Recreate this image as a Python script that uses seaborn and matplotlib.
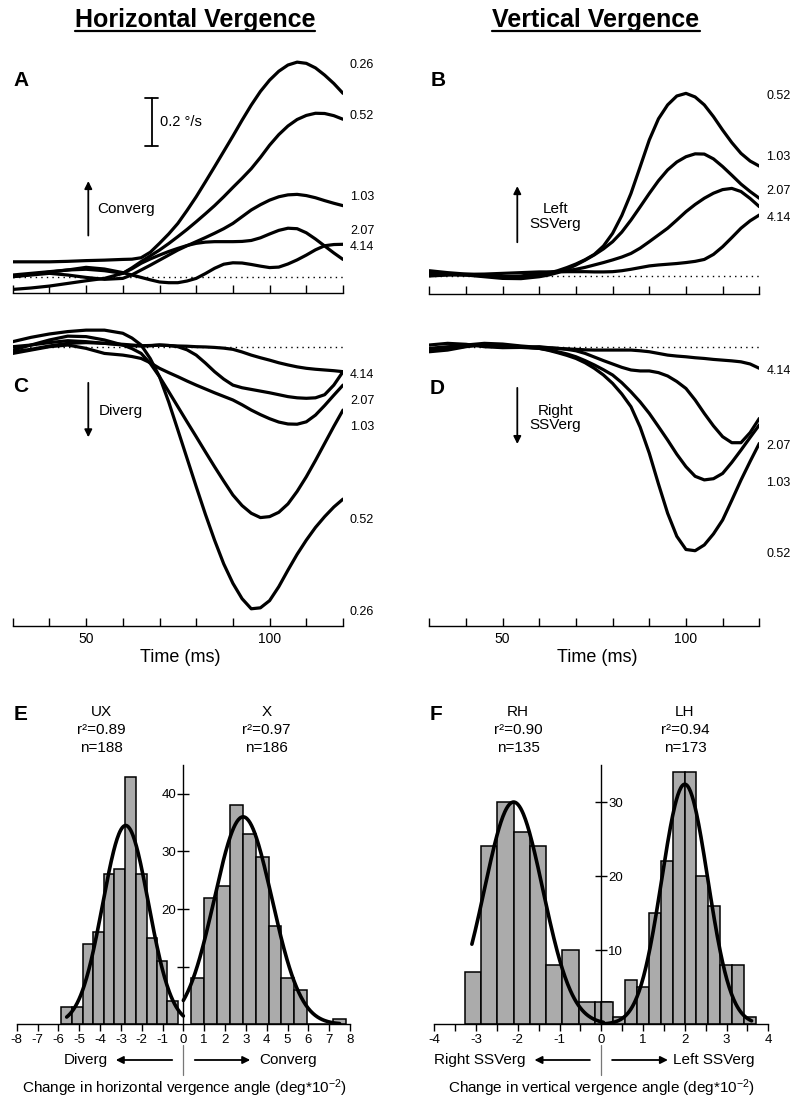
import numpy as np
import pandas as pd
import seaborn as sns
import matplotlib
matplotlib.use('Agg')  # no display
import matplotlib.pyplot as plt
from matplotlib.lines import Line2D

# Figure size in pixels
W, H = 800, 1104

# ---- Velocity traces (deg/s) ----
TIME_MS = [30, 35, 40, 45, 50, 55, 60, 62.5, 65, 67.5, 70, 72.5, 75, 77.5, 80, 82.5, 85, 87.5,
           90, 92.5, 95, 97.5, 100, 102.5, 105, 107.5, 110, 112.5, 115, 117.5, 120]
TF_LABELS = ['0.26', '0.52', '1.03', '2.07', '4.14']

# A: horizontal, convergence
A_026 = [0.062, 0.062, 0.062, 0.064, 0.067, 0.069, 0.072, 0.073, 0.079, 0.102, 0.139, 0.178, 0.222, 0.276, 0.333, 0.395,
         0.458, 0.522, 0.586, 0.652, 0.715, 0.772, 0.819, 0.856, 0.882, 0.894, 0.889, 0.870, 0.840, 0.805, 0.764]
A_052 = [-0.053, -0.047, -0.039, -0.028, -0.017, -0.007, 0.014, 0.037, 0.063, 0.087, 0.111, 0.138, 0.167, 0.197, 0.229, 0.262,
         0.296, 0.333, 0.372, 0.410, 0.450, 0.497, 0.548, 0.592, 0.628, 0.655, 0.672, 0.681, 0.680, 0.671, 0.656]
A_103 = [0.000, 0.007, 0.014, 0.007, -0.003, -0.011, -0.007, 0.008, 0.028, 0.048, 0.069, 0.090, 0.111, 0.129, 0.146, 0.163,
         0.181, 0.200, 0.222, 0.250, 0.278, 0.300, 0.319, 0.333, 0.341, 0.343, 0.338, 0.329, 0.317, 0.306, 0.296]
A_207 = [0.007, 0.014, 0.021, 0.028, 0.031, 0.025, 0.014, 0.033, 0.056, 0.074, 0.090, 0.105, 0.118, 0.130, 0.139, 0.144,
         0.146, 0.146, 0.146, 0.147, 0.151, 0.162, 0.178, 0.193, 0.202, 0.200, 0.183, 0.157, 0.128, 0.099, 0.072]
A_414 = [0.000, 0.010, 0.019, 0.028, 0.039, 0.032, 0.017, 0.007, -0.003, -0.013, -0.022, -0.025, -0.025, -0.018, -0.007, 0.013,
         0.035, 0.052, 0.058, 0.057, 0.051, 0.044, 0.038, 0.040, 0.053, 0.070, 0.090, 0.112, 0.129, 0.134, 0.135]

# B: vertical, left SSVerg
B_052 = [0.022, 0.014, 0.008, 0.003, -0.003, -0.003, 0.004, 0.012, 0.022, 0.035, 0.050, 0.068, 0.090, 0.125, 0.178, 0.252,
         0.344, 0.455, 0.567, 0.655, 0.713, 0.750, 0.761, 0.746, 0.713, 0.664, 0.608, 0.556, 0.511, 0.479, 0.458]
B_103 = [0.011, 0.008, 0.004, -0.003, -0.010, -0.011, -0.003, 0.004, 0.014, 0.028, 0.046, 0.066, 0.088, 0.113, 0.143, 0.183,
         0.233, 0.288, 0.344, 0.397, 0.442, 0.475, 0.497, 0.509, 0.508, 0.488, 0.456, 0.420, 0.383, 0.352, 0.324]
B_207 = [0.004, 0.006, 0.004, 0.001, -0.003, 0.000, 0.011, 0.015, 0.018, 0.022, 0.028, 0.036, 0.046, 0.056, 0.067, 0.079,
         0.094, 0.116, 0.143, 0.171, 0.199, 0.233, 0.268, 0.298, 0.324, 0.345, 0.360, 0.365, 0.352, 0.323, 0.289]
B_414 = [0.000, 0.004, 0.007, 0.008, 0.011, 0.014, 0.017, 0.017, 0.017, 0.018, 0.018, 0.018, 0.017, 0.017, 0.018, 0.022,
         0.028, 0.035, 0.042, 0.046, 0.049, 0.052, 0.056, 0.061, 0.069, 0.090, 0.122, 0.160, 0.199, 0.230, 0.254]

# C: horizontal, divergence
C_026 = [0.021, 0.039, 0.053, 0.063, 0.069, 0.069, 0.056, 0.036, 0.007, -0.050, -0.125, -0.230, -0.347, -0.465, -0.583, -0.698,
         -0.806, -0.905, -0.986, -1.050, -1.092, -1.088, -1.058, -1.000, -0.931, -0.865, -0.806, -0.753, -0.708, -0.668, -0.635]
C_052 = [-0.014, 0.007, 0.028, 0.044, 0.042, 0.028, 0.007, -0.008, -0.028, -0.070, -0.125, -0.187, -0.250, -0.313, -0.375, -0.438,
         -0.500, -0.560, -0.618, -0.662, -0.694, -0.712, -0.708, -0.690, -0.655, -0.603, -0.542, -0.474, -0.403, -0.332, -0.264]
C_103 = [-0.028, -0.014, 0.000, 0.007, -0.007, -0.028, -0.035, -0.041, -0.049, -0.067, -0.090, -0.108, -0.125, -0.143, -0.160, -0.176,
         -0.192, -0.207, -0.222, -0.242, -0.264, -0.283, -0.300, -0.314, -0.322, -0.323, -0.313, -0.285, -0.245, -0.202, -0.160]
C_207 = [-0.021, -0.011, 0.003, 0.014, 0.017, 0.014, 0.007, 0.004, 0.003, 0.004, 0.007, 0.005, 0.000, -0.013, -0.035, -0.068,
         -0.104, -0.135, -0.160, -0.171, -0.178, -0.185, -0.192, -0.200, -0.208, -0.213, -0.215, -0.213, -0.200, -0.160, -0.104]
C_414 = [0.000, 0.007, 0.017, 0.025, 0.021, 0.014, 0.010, 0.007, 0.004, 0.005, 0.007, 0.005, 0.003, 0.002, 0.000, -0.001,
         -0.003, -0.006, -0.011, -0.022, -0.035, -0.046, -0.056, -0.067, -0.076, -0.084, -0.090, -0.094, -0.097, -0.100, -0.104]

# D: vertical, right SSVerg
D_052 = [-0.007, 0.000, 0.003, 0.006, 0.003, -0.003, -0.007, -0.015, -0.025, -0.036, -0.049, -0.067, -0.090, -0.118, -0.153, -0.197,
         -0.250, -0.335, -0.444, -0.572, -0.694, -0.790, -0.845, -0.850, -0.826, -0.780, -0.722, -0.640, -0.556, -0.478, -0.403]
D_103 = [-0.021, -0.014, 0.000, 0.010, 0.007, 0.000, -0.007, -0.013, -0.021, -0.030, -0.042, -0.058, -0.076, -0.096, -0.118, -0.150,
         -0.188, -0.230, -0.278, -0.333, -0.389, -0.448, -0.500, -0.540, -0.555, -0.550, -0.528, -0.482, -0.431, -0.378, -0.326]
D_207 = [-0.014, -0.007, 0.007, 0.014, 0.011, 0.003, -0.003, -0.005, -0.007, -0.011, -0.017, -0.028, -0.043, -0.058, -0.072, -0.086,
         -0.097, -0.101, -0.101, -0.108, -0.122, -0.145, -0.174, -0.222, -0.278, -0.330, -0.375, -0.400, -0.400, -0.358, -0.299]
D_414 = [0.007, 0.014, 0.010, 0.000, -0.004, -0.003, 0.000, -0.004, -0.007, -0.009, -0.011, -0.013, -0.014, -0.014, -0.014, -0.014,
         -0.014, -0.017, -0.021, -0.028, -0.035, -0.039, -0.042, -0.046, -0.049, -0.053, -0.056, -0.059, -0.063, -0.072, -0.090]

# ---- Histograms (bin edges in deg*10^-2, counts) ----
UX_EDGES = [-5.87, -5.34, -4.81, -4.33, -3.80, -3.32, -2.79, -2.26, -1.73, -1.25, -0.77, -0.24]
UX_COUNTS = [3, 3, 14, 16, 26, 27, 43, 26, 15, 11, 4]
X_EDGES = [0.37, 0.99, 1.61, 2.23, 2.85, 3.47, 4.09, 4.71, 5.33, 5.95, 6.57, 7.19, 7.81]
X_COUNTS = [8, 22, 24, 38, 33, 29, 17, 8, 6, 0, 0, 1]
RH_EDGES = [-3.27, -2.88, -2.49, -2.10, -1.71, -1.32, -0.93, -0.54, -0.15, 0.24]
RH_COUNTS = [7, 24, 30, 26, 24, 8, 10, 3, 3]
LH_EDGES = [0.0, 0.285, 0.57, 0.855, 1.14, 1.425, 1.71, 1.995, 2.28, 2.565, 2.85, 3.135, 3.42, 3.705]
LH_COUNTS = [3, 1, 6, 5, 15, 22, 34, 34, 20, 16, 8, 8, 1]

# Gaussian fits: amplitude, mean, sd, and the x span drawn
UX_FIT = [34.5, -2.77, 1.10]
UX_SPAN = [-5.6, 0.0]
X_FIT = [36.0, 2.87, 1.38]
X_SPAN = [0.0, 7.5]
RH_FIT = [30.0, -2.10, 0.70]
RH_SPAN = [-3.1, 0.05]
LH_FIT = [32.4, 2.00, 0.55]
LH_SPAN = [0.05, 3.6]

E_STATS = [('UX', 'r²=0.89', 'n=188'), ('X', 'r²=0.97', 'n=186')]
F_STATS = [('RH', 'r²=0.90', 'n=135'), ('LH', 'r²=0.94', 'n=173')]

BAR_GRAY = '#ababab'
PX_PER_UNIT = 240.0  # vertical pixels per deg/s in the trace panels

sns.set_theme(style='white', rc={
    'axes.edgecolor': 'black', 'text.color': 'black', 'axes.labelcolor': 'black',
    'xtick.color': 'black', 'ytick.color': 'black', 'axes.linewidth': 1.0,
    'lines.solid_joinstyle': 'round', 'lines.solid_capstyle': 'round',
})
plt.rcParams['font.family'] = ['Liberation Sans', 'DejaVu Sans']
plt.rcParams['mathtext.fontset'] = 'custom'
plt.rcParams['mathtext.rm'] = 'Liberation Sans'
plt.rcParams['mathtext.it'] = 'Liberation Sans:italic'
plt.rcParams['axes.unicode_minus'] = False

fig = plt.figure(figsize=(W / 100, H / 100), dpi=100)


def px_axes(left, top, right, bottom):
    """Add axes using image pixel coordinates (origin top-left)."""
    return fig.add_axes([left / W, 1 - bottom / H, (right - left) / W, (bottom - top) / H])


def ftext(x, y, s, **kw):
    kw.setdefault('ha', 'center')
    kw.setdefault('va', 'center')
    return fig.text(x / W, 1 - y / H, s, **kw)


def farrow(x1, x2, y):
    fig.add_artist(matplotlib.patches.FancyArrowPatch(
        (x1 / W, 1 - y / H), (x2 / W, 1 - y / H), transform=fig.transFigure,
        arrowstyle='-|>', mutation_scale=11, color='black', lw=1.3))


def draw_traces(ax, traces, zero_px, top_px, bottom_px, use_max, tick_labels):
    df = pd.concat([pd.DataFrame({'time': TIME_MS, 'vel': v, 'tf': k}) for k, v in traces.items()])
    ax.axhline(0, color='black', ls=(0, (1, 3)), lw=1, zorder=1)
    sns.lineplot(data=df, x='time', y='vel', units='tf', estimator=None, color='black',
                 lw=2.3, ax=ax, legend=False, zorder=2)
    ax.set_xlim(30, 120)
    ax.set_ylim((zero_px - bottom_px) / PX_PER_UNIT, (zero_px - top_px) / PX_PER_UNIT)
    for k, v in traces.items():
        y = max(v) if use_max else min(v)
        ax.annotate(k, xy=(120, y - 0.012), xytext=(5, 0), textcoords='offset points',
                    fontsize=9, va='center', ha='left', annotation_clip=False)
    for side in ['left', 'right', 'top']:
        ax.spines[side].set_visible(False)
    ax.set_yticks([])
    ax.set_xticks(list(range(30, 121, 10)))
    if tick_labels:
        ax.set_xticklabels(['50' if t == 50 else '100' if t == 100 else '' for t in range(30, 121, 10)])
    else:
        ax.set_xticklabels([])
    ax.tick_params(axis='x', direction='in', length=6, width=1, bottom=True, labelsize=10, pad=4)
    ax.set_xlabel('')
    ax.set_ylabel('')
    ax.patch.set_alpha(0)


def draw_hist(ax, edges, counts):
    centers = [(a + b) / 2 for a, b in zip(edges[:-1], edges[1:])]
    sns.histplot(x=centers, weights=counts, bins=edges, color=BAR_GRAY, edgecolor='black',
                 linewidth=1.1, alpha=1, ax=ax)


def draw_fit(ax, fit, span):
    amp, mu, sd = fit
    xs = np.linspace(span[0], span[1], 200)
    ys = amp * np.exp(-0.5 * ((xs - mu) / sd) ** 2)
    sns.lineplot(x=xs, y=ys, color='black', lw=2.6, ax=ax)


# ---- Trace panels ----
axA = px_axes(12.7, 50, 343, 293)
draw_traces(axA, dict(zip(TF_LABELS, [A_026, A_052, A_103, A_207, A_414])), 276.7, 50, 293, True, False)
axB = px_axes(429.3, 50, 759.3, 294.5)
draw_traces(axB, dict(zip(TF_LABELS[1:], [B_052, B_103, B_207, B_414])), 276, 50, 294.5, True, False)
axC = px_axes(12.7, 305, 343, 626)
draw_traces(axC, dict(zip(TF_LABELS, [C_026, C_052, C_103, C_207, C_414])), 346.7, 305, 626, False, True)
axD = px_axes(429.3, 305, 759.3, 626)
draw_traces(axD, dict(zip(TF_LABELS[1:], [D_052, D_103, D_207, D_414])), 346.7, 305, 626, False, True)

# scale bar in A
axA.plot([67.9, 67.9], [0.545, 0.745], color='black', lw=1.3)
axA.plot([66.1, 69.7], [0.745, 0.745], color='black', lw=1.3)
axA.plot([66.1, 69.7], [0.545, 0.545], color='black', lw=1.3)
axA.text(70.2, 0.645, '0.2 °/s', fontsize=10.5, va='center', ha='left')

arrow_kw = dict(arrowstyle='-|>', mutation_scale=11, color='black', lw=1.3)
axA.annotate('', xy=(50.6, 0.41), xytext=(50.6, 0.16), arrowprops=arrow_kw)
axA.text(53, 0.282, 'Converg', fontsize=11, va='center', ha='left')
axB.annotate('', xy=(54, 0.386), xytext=(54, 0.129), arrowprops=arrow_kw)
axB.text(64.3, 0.247, 'Left\nSSVerg', fontsize=11, va='center', ha='center', linespacing=1.05)
axC.annotate('', xy=(50.6, -0.389), xytext=(50.6, -0.139), arrowprops=arrow_kw)
axC.text(53.5, -0.27, 'Diverg', fontsize=11, va='center', ha='left')
axD.annotate('', xy=(54, -0.417), xytext=(54, -0.16), arrowprops=arrow_kw)
axD.text(64.3, -0.297, 'Right\nSSVerg', fontsize=11, va='center', ha='center', linespacing=1.05)

ftext(180, 658, 'Time (ms)', fontsize=13)
ftext(597, 658, 'Time (ms)', fontsize=13)

# ---- Histogram panels ----
axE = px_axes(16.7, 765, 350, 1024.3)
draw_hist(axE, UX_EDGES, UX_COUNTS)
draw_hist(axE, X_EDGES, X_COUNTS)
draw_fit(axE, UX_FIT, UX_SPAN)
draw_fit(axE, X_FIT, X_SPAN)
axE.set_xlim(-8, 8)
axE.set_ylim(0, 45)
axE.spines['top'].set_visible(False)
axE.spines['right'].set_visible(False)
axE.spines['left'].set_position(('data', 0))
axE.set_xticks(list(range(-8, 9)))
axE.set_yticks([10, 20, 30, 40])
axE.set_yticklabels(['', '20', '30', '40'])
axE.tick_params(axis='x', direction='out', length=5, width=1, bottom=True, labelsize=9.5, pad=2)
axE.tick_params(axis='y', direction='inout', length=8, width=1, left=True, labelsize=9.5, pad=1)

axF = px_axes(434.3, 765, 768.3, 1024.3)
draw_hist(axF, RH_EDGES, RH_COUNTS)
draw_hist(axF, LH_EDGES, LH_COUNTS)
draw_fit(axF, RH_FIT, RH_SPAN)
draw_fit(axF, LH_FIT, LH_SPAN)
axF.set_xlim(-4, 4)
axF.set_ylim(0, 35)
axF.spines['top'].set_visible(False)
axF.spines['left'].set_visible(False)
axF.spines['right'].set_position(('data', 0))
axF.yaxis.set_ticks_position('right')
axF.set_xticks(list(range(-4, 5)))
axF.set_xticks(list(np.arange(-3.5, 4, 1.0)), minor=True)
axF.set_yticks([10, 20, 30])
axF.tick_params(axis='x', which='both', direction='out', length=5, width=1, bottom=True, labelsize=9.5, pad=2)
axF.tick_params(axis='y', direction='inout', length=8, width=1, right=True, labelsize=9.5, pad=1)

for ax in (axE, axF):
    ax.set_xlabel('')
    ax.set_ylabel('')
    ax.patch.set_alpha(0)

for (x_px, stats) in [(101.7, E_STATS[0]), (266.7, E_STATS[1]), (518, F_STATS[0]), (685, F_STATS[1])]:
    for y_px, s in zip([712, 730, 748], stats):
        ftext(x_px, y_px, s, fontsize=11)

# direction arrows below histograms
for x0 in (183.3, 601):
    fig.add_artist(Line2D([x0 / W, x0 / W], [1 - 1045 / H, 1 - 1075 / H], transform=fig.transFigure,
                          color='#777777', lw=0.9))
farrow(175, 113, 1060)
farrow(192, 253, 1060)
ftext(108, 1060, 'Diverg', fontsize=11, ha='right')
ftext(259, 1060, 'Converg', fontsize=11, ha='left')
farrow(592.7, 531.7, 1060)
farrow(609.3, 670.7, 1060)
ftext(525, 1060, 'Right SSVerg', fontsize=11, ha='right')
ftext(672.7, 1060, 'Left SSVerg', fontsize=11, ha='left')
ftext(184, 1088, 'Change in horizontal vergence angle (deg*10$^{-2}$)', fontsize=11)
ftext(602, 1088, 'Change in vertical vergence angle (deg*10$^{-2}$)', fontsize=11)

# panel letters
for letter, x_px, y_px in [('A', 21, 80), ('B', 438, 80), ('C', 21, 386), ('D', 437, 389),
                           ('E', 21, 715), ('F', 436, 715)]:
    ftext(x_px, y_px, letter, fontsize=15, fontweight='bold')

# underlined titles
titles = [ftext(195, 20, 'Horizontal Vergence', fontsize=18, fontweight='bold'),
          ftext(596, 20, 'Vertical Vergence', fontsize=18, fontweight='bold')]
fig.canvas.draw()
renderer = fig.canvas.get_renderer()
for t in titles:
    bb = t.get_window_extent(renderer)
    y = (bb.y0 + 1) / H
    fig.add_artist(Line2D([bb.x0 / W, bb.x1 / W], [y, y], transform=fig.transFigure, color='black', lw=1.6))

fig.savefig('out.png', dpi=100)
